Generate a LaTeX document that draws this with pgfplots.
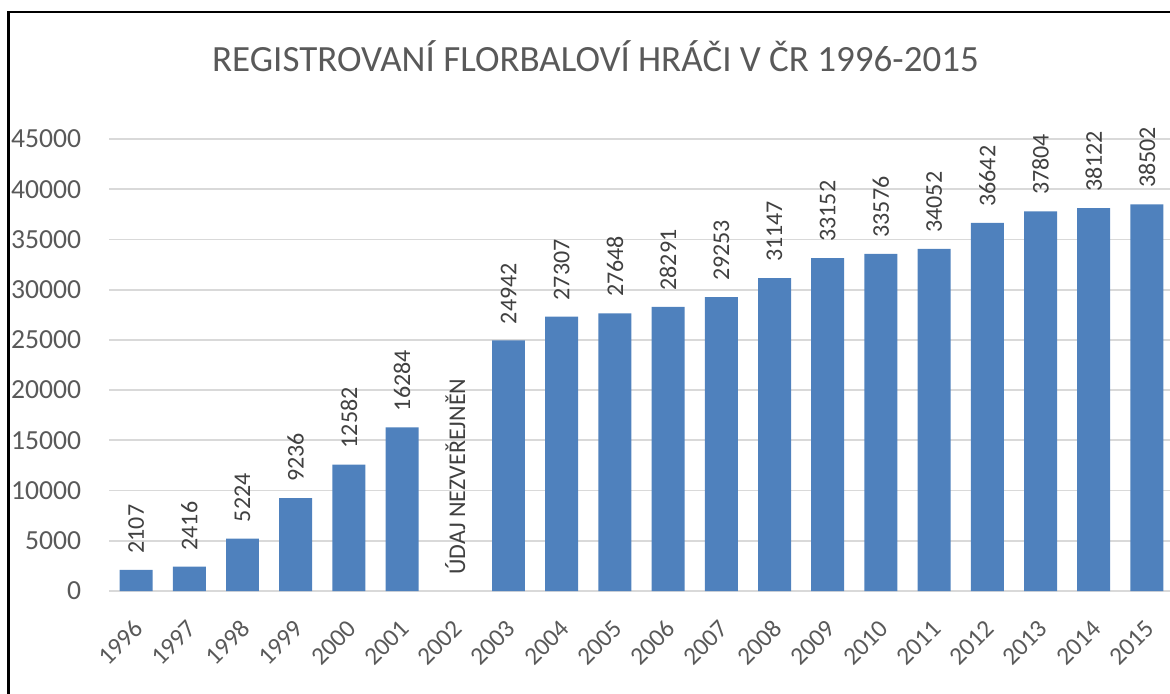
\documentclass[border=0pt]{standalone}
\usepackage{pgfplots}
\pgfplotsset{compat=1.18}
\usepackage{fontspec}
\setmainfont{Carlito}
\definecolor{barblue}{HTML}{4F81BD}
\definecolor{txtgrey}{HTML}{595959}
\definecolor{lblgrey}{HTML}{404040}
\definecolor{gridgrey}{HTML}{D9D9D9}
\begin{document}
\begin{tikzpicture}
\begin{axis}[
  at={(0pt,0pt)}, anchor=south west,
  scale only axis,
  width=532pt, height=226pt,
  xmin=-0.5, xmax=19.5,
  ymin=0, ymax=45000,
  axis line style={draw=none},
  ymajorgrids,
  grid style={gridgrey, line width=0.9pt},
  ytick={0,5000,...,45000},
  scaled y ticks=false,
  xtick={0,...,19},
  xtick pos=bottom, ytick pos=left,
  xticklabels={1996,1997,1998,1999,2000,2001,2002,2003,2004,2005,2006,2007,2008,2009,2010,2011,2012,2013,2014,2015},
  /pgf/number format/assume math mode=true,
  /pgf/number format/1000 sep={},
  /pgf/number format/fixed,
  yticklabel style={font=\fontsize{13.8}{16}\selectfont, text=txtgrey, anchor=east, inner sep=0pt, xshift=-14pt},
  xticklabel style={font=\fontsize{12.6}{15}\selectfont, text=txtgrey, inner sep=0pt, xshift=1.5pt, yshift=-16.5pt, rotate=45, anchor=east},
  major tick length=0pt,
  clip=false,
]
\addplot[ybar, bar width=0.62, fill=barblue, draw=none,
  point meta=explicit symbolic,
  nodes near coords,
  every node near coord/.style={font=\fontsize{12}{14}\selectfont, text=lblgrey, rotate=90, anchor=west, inner xsep=8pt, inner ysep=0pt},
] coordinates {
(0,2107)[2107]
(1,2416)[2416]
(2,5224)[5224]
(3,9236)[9236]
(4,12582)[12582]
(5,16284)[16284]
(7,24942)[24942]
(8,27307)[27307]
(9,27648)[27648]
(10,28291)[28291]
(11,29253)[29253]
(12,31147)[31147]
(13,33152)[33152]
(14,33576)[33576]
(15,34052)[34052]
(16,36642)[36642]
(17,37804)[37804]
(18,38122)[38122]
(19,38502)[38502]
};
\addplot[draw=none, mark=none,
  point meta=explicit symbolic,
  nodes near coords,
  every node near coord/.style={font=\fontsize{12}{14}\selectfont, text=lblgrey, rotate=90, anchor=west, inner xsep=8pt, inner ysep=0pt},
] coordinates {(6,0)[ÚDAJ NEZVEŘEJNĚN]};
\end{axis}
\node[font=\fontsize{18.5}{22}\selectfont, text=txtgrey, anchor=center] at (243pt,267.5pt) {REGISTROVANÍ FLORBALOVÍ HRÁČI V ČR 1996-2015};
\draw[black, line width=1.2pt] (-50.5pt,-60pt) -- (-50.5pt,289.5pt) -- (540pt,289.5pt);
\pgfresetboundingbox
\useasboundingbox (-54.75pt,-51pt) rectangle (530.25pt,295.5pt);
\end{tikzpicture}
\end{document}
